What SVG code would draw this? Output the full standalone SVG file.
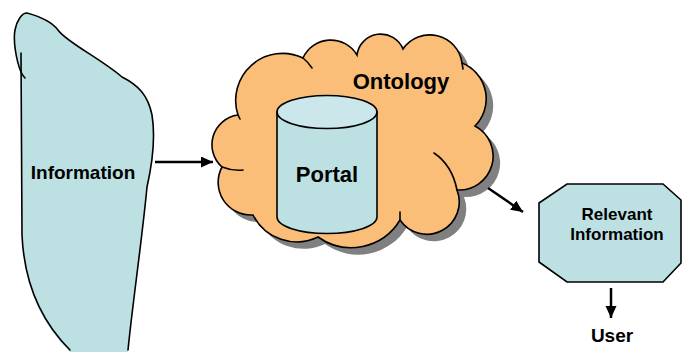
<svg xmlns="http://www.w3.org/2000/svg" width="682" height="352" viewBox="0 0 682 352">
<style>
  .lbl { font-family: "Liberation Sans", Arial, sans-serif; font-weight: bold; fill: #000; text-anchor: middle; }
  .ln { fill: none; stroke: #000; stroke-width: 1.6; stroke-linecap: round; stroke-linejoin: round; }
  .blue { fill: #BDE0E3; }
  .conn { stroke: #000; stroke-width: 2.5; fill: none; marker-end: url(#ah); }
</style>
<defs>
  <marker id="ah" markerUnits="userSpaceOnUse" markerWidth="13" markerHeight="12" refX="12" refY="5.5" orient="auto">
    <path d="M0,0 L12,5.5 L0,11 Z" fill="#000"/>
  </marker>
  <path id="cloudPath" d="M238,115 A47,47 0 0 1 303,58 A30.5,30.5 0 0 1 357,55 A24,24 0 0 1 403,49 A32.5,32.5 0 0 1 462,63 A38.6,38.6 0 0 1 475,126 A34,34 0 0 1 457,190 A32.4,32.4 0 0 1 400,220 A57,57 0 0 1 318,237 A49,49 0 0 1 253,215 A32.7,32.7 0 0 1 222,167 A29.9,29.9 0 0 1 238,115 Z"/>
</defs>
<rect width="682" height="352" fill="#fff"/>

<g id="information">
  <path class="blue" d="M27,13 C38,16 52,22 58,30 C66,42 100,58 122,77 C138,85 148,95 152,115 C156,140 152,165 147,187 C142,240 133,300 128,352 L70,352 C40,322 24,285 22,235 L21,75 C16,60 13,40 15,30 C17,20 22,13 27,13 Z"/>
  <path class="ln" d="M128,350 C133,300 142,240 147,187 C152,165 156,140 152,115 C148,95 138,85 122,77 C100,58 66,42 58,30 C52,22 38,16 27,13 C22,13 17,20 15,30 C13,40 16,60 21,72 C23,76 25,78 25,78"/>
  <path class="ln" d="M21,53 L22,235 C24,280 40,320 70,350"/>
  <text class="lbl" x="83" y="179" font-size="19">Information</text>
</g>

<g id="ontology">
  <use href="#cloudPath" transform="translate(7,7)" fill="#808080"/>
  <use href="#cloudPath" fill="#FABE78" stroke="#000" stroke-width="1.6"/>
  <path class="ln" d="M303,58 Q308,62 312,68"/>
  <path class="ln" d="M238,115 L240,119"/>
  <path class="ln" d="M462,63 L463,69"/>
  <path class="ln" d="M434,153 Q452,165 457,190"/>
  <path class="ln" d="M400,212 L400,220"/>
  <path class="ln" d="M222,167 Q232,171 243,170"/>
  <text class="lbl" x="401" y="89" font-size="22">Ontology</text>
</g>

<g id="portal">
  <path class="blue" d="M277,112 L277,217 A50,16.5 0 0 0 377,217 L377,112 Z" stroke="#000" stroke-width="1.6"/>
  <ellipse cx="327" cy="112" rx="50" ry="16.5" fill="#CBE7EC" stroke="#000" stroke-width="1.6"/>
  <text class="lbl" x="327" y="182" font-size="22">Portal</text>
</g>

<g id="relevant">
  <polygon class="blue" points="567,184 663,184 681,200 681,263 663,282 567,282 539,262 539,203" stroke="#000" stroke-width="1.6"/>
  <text class="lbl" x="617" y="220" font-size="17">Relevant</text>
  <text class="lbl" x="617" y="240" font-size="17">Information</text>
</g>

<g id="user">
  <text class="lbl" x="612" y="342" font-size="19">User</text>
</g>

<g id="connectors">
  <line class="conn" x1="155" y1="162" x2="213" y2="162"/>
  <line class="conn" x1="488" y1="188" x2="523" y2="212"/>
  <line class="conn" x1="611" y1="288" x2="611" y2="318"/>
</g>
</svg>
